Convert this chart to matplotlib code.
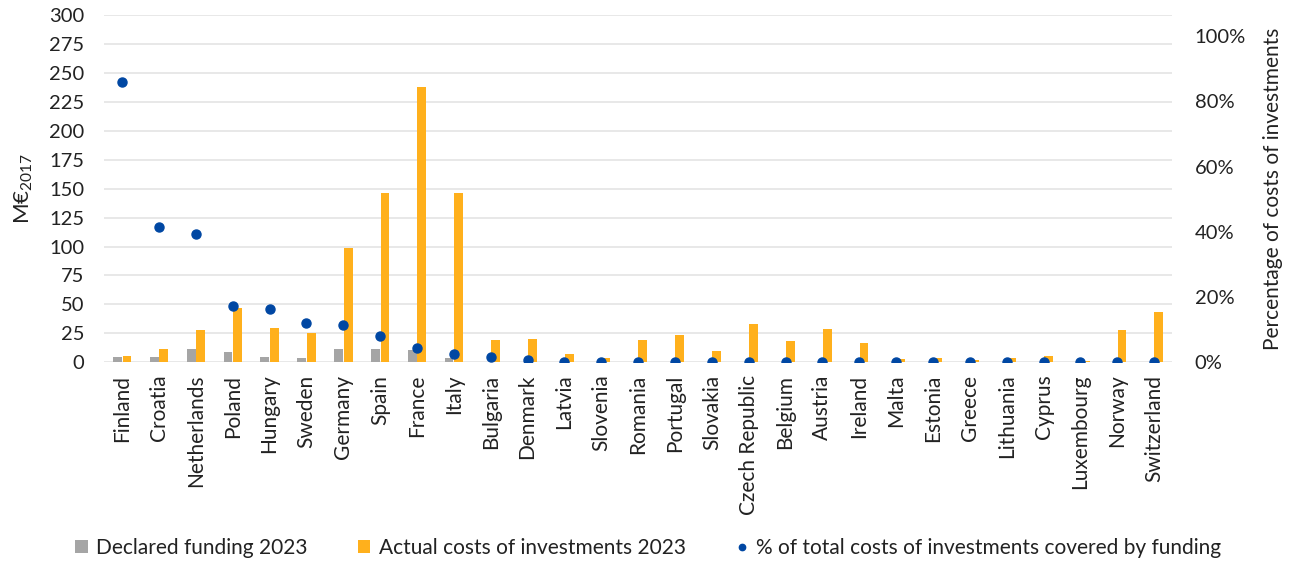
import matplotlib
matplotlib.use('Agg')
import matplotlib.pyplot as plt
import matplotlib.ticker as mticker
import numpy as np

plt.rcParams['font.family'] = ['Lato', 'DejaVu Sans']
plt.rcParams['mathtext.default'] = 'regular'

countries = [
    'Finland', 'Croatia', 'Netherlands', 'Poland', 'Hungary', 'Sweden',
    'Germany', 'Spain', 'France', 'Italy', 'Bulgaria', 'Denmark', 'Latvia',
    'Slovenia', 'Romania', 'Portugal', 'Slovakia', 'Czech Republic',
    'Belgium', 'Austria', 'Ireland', 'Malta', 'Estonia', 'Greece',
    'Lithuania', 'Cyprus', 'Luxembourg', 'Norway', 'Switzerland'
]
declared_funding = [
    4.6, 4.6, 11.2, 8.4, 4.6, 3.2, 11.5, 11.8, 10.4, 3.7, 0.3, 0.2, 0.0,
    0.0, 0.0, 0.0, 0.0, 0.0, 0.0, 0.0, 0.0, 0.0, 0.0, 0.0, 0.0, 0.0, 0.0,
    0.0, 0.0
]
actual_costs = [
    5.2, 11.0, 28.2, 46.7, 29.4, 25.3, 99.0, 146.6, 238.3, 146.3, 19.0,
    19.9, 6.9, 4.0, 19.0, 23.3, 9.8, 32.8, 18.2, 29.1, 17.0, 2.6, 3.7, 1.7,
    3.7, 4.9, 1.4, 27.7, 43.8
]
pct_covered = [
    0.86, 0.416, 0.394, 0.172, 0.162, 0.12, 0.113, 0.08, 0.044, 0.024,
    0.015, 0.008, 0.002, 0.0, 0.0, 0.0, 0.0, 0.0, 0.0, 0.0, 0.0, 0.0, 0.0,
    0.0, 0.0, 0.0, 0.0, 0.0, 0.0
]

GREY = '#A5A5A5'
ORANGE = '#FFB01C'
BLUE = '#0047A3'
TEXT = '#222222'

fig, ax = plt.subplots(figsize=(12.97, 5.65), dpi=100)
fig.subplots_adjust(left=0.08, right=0.904, top=0.973, bottom=0.359)

x = np.arange(len(countries))
w = 0.24
ax.bar(x - 0.13, declared_funding, width=w, color=GREY,
       label='Declared funding 2023', zorder=2)
ax.bar(x + 0.13, actual_costs, width=w, color=ORANGE,
       label='Actual costs of investments 2023', zorder=2)

ax.set_ylim(0, 300)
ax.set_yticks(np.arange(0, 301, 25))
ax.set_xlim(-0.5, len(countries) - 0.5)
ax.set_xticks(x)
ax.set_xticklabels(countries, rotation=90, fontsize=15, color=TEXT)
ax.tick_params(axis='y', length=0, labelsize=14.5, colors=TEXT, pad=14)
ax.tick_params(axis='x', length=0, pad=9)
ax.grid(True, axis='y', color='#E4E4E4', linewidth=1.2, zorder=0)
ax.set_axisbelow(True)
for s in ax.spines.values():
    s.set_visible(False)
ax.set_ylabel('M€$_{2017}$', fontsize=16, color=TEXT, labelpad=10)

# share of costs covered, on the right-hand axis
ax2 = ax.twinx()
ax2.plot(x, pct_covered, 'o', color=BLUE, markersize=6.5,
         label='% of total costs of investments covered by funding', zorder=3)
ax2.set_ylim(0, 347 / 326)
ax2.set_yticks(np.arange(0, 1.01, 0.2))
ax2.yaxis.set_major_formatter(mticker.PercentFormatter(1.0, decimals=0))
ax2.tick_params(axis='y', length=0, labelsize=14.5, colors=TEXT, pad=16)
for s in ax2.spines.values():
    s.set_visible(False)
ax2.set_ylabel('Percentage of costs of investments', fontsize=15,
               color=TEXT, labelpad=12)

h1, l1 = ax.get_legend_handles_labels()
h2, l2 = ax2.get_legend_handles_labels()
leg = fig.legend(h1 + h2, l1 + l2, loc='lower center',
                 bbox_to_anchor=(0.5, -0.02), ncol=3, frameon=False,
                 fontsize=15, handlelength=0.6, handleheight=0.6,
                 handletextpad=0.4, columnspacing=2.4, labelcolor=TEXT,
                 markerscale=0.7)

fig.savefig('out.png', dpi=100)
